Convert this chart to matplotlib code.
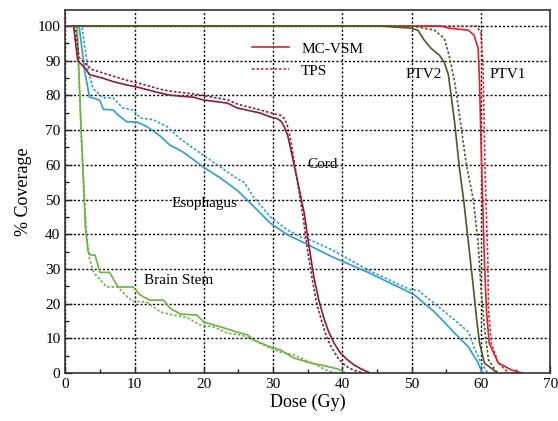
import matplotlib
matplotlib.use("Agg")
import matplotlib.pyplot as plt
from matplotlib.lines import Line2D
from matplotlib.ticker import MultipleLocator

plt.rcParams['font.family'] = ['Liberation Serif', 'DejaVu Serif']

# ---- DVH data (dose in Gy, coverage in %) ----
cord_mc_dose = [0, 1.2, 1.8, 2.8, 3.5, 5.4, 6.9, 8.9, 10.4, 13.7, 15.1, 16.6, 18.5, 19.9, 23.4,
                24.8, 28.2, 29.6, 30.6, 31.2, 31.6, 32.1, 32.5, 33.5, 34.5, 35.2, 35.9, 36.6, 37.3,
                38.0, 38.8, 39.7, 40.8, 41.7, 42.7, 44.0]
cord_mc_cov = [100, 100, 90, 88, 86, 85, 84, 83, 82.4, 80.7, 80.1, 79.8, 79.5, 78.7, 77.8,
               76.4, 74.9, 73.8, 73.3, 72.5, 71, 68.5, 65, 55.6, 46, 36.3, 27.5, 21, 16,
               12, 8.6, 5.8, 3.7, 2.3, 1.2, 0]
cord_tps_dose = [0, 1.4, 2.0, 3.0, 3.8, 5.4, 7.0, 9.0, 10.5, 13.7, 15.0, 17.0, 19.0, 21.0, 23.5,
                 25.0, 28.2, 30.0, 31.2, 31.7, 32.1, 32.5, 32.8, 33.6, 34.4, 35.0, 35.7, 36.3, 37.0,
                 37.7, 38.4, 39.3, 40.2, 41.0, 41.8, 43.0]
cord_tps_cov = [100, 100, 91, 89, 87.5, 86.5, 85.5, 84.3, 83.6, 81.8, 81.3, 80.8, 80.3, 79.6, 78.7,
                77.4, 75.8, 74.8, 74.2, 73.2, 71, 67.5, 64, 54, 44, 35, 26.5, 20, 15,
                10.5, 7.5, 4.5, 2.5, 1.4, 0.7, 0]

eso_mc_dose = [0, 2.0, 2.8, 3.5, 4.5, 5.0, 5.5, 6.9, 7.6, 8.9, 10.4, 11.8, 13.7, 15.1, 17.0, 19.9,
               22.4, 24.8, 26.7, 29.6, 32.1, 34.5, 38.5, 43.7, 48.5, 50.4, 53.3, 56.2, 58.2, 59.6, 60.2]
eso_mc_cov = [100, 100, 87, 79.5, 79, 78.5, 76, 75.8, 74.4, 72.4, 72.3, 71, 68.3, 65.7, 63.7, 59.4,
              56.2, 52.7, 49, 43.2, 39.8, 37.5, 33.5, 29, 24.4, 22.5, 17.6, 11.5, 7.5, 2.9, 0]
eso_tps_dose = [0, 2.4, 3.3, 4.0, 5.5, 6.9, 8.3, 9.8, 10.8, 12.7, 14.7, 16.6, 19.9, 24.8, 25.8, 27.2,
                29.6, 32.1, 34.0, 35.4, 38.5, 43.7, 49.9, 50.9, 53.3, 56.2, 58.2, 59.0, 60.0, 61.0]
eso_tps_cov = [100, 100, 87, 82, 79.3, 79.3, 76.4, 75.8, 73.5, 73, 71, 67.5, 62.8, 56, 55, 50.7,
               45, 41.2, 39.2, 38.3, 35.5, 29.7, 23.9, 23.9, 20, 15.3, 11.8, 7.5, 3.0, 0]

bs_mc_dose = [0, 1.7, 2.3, 2.9, 3.3, 3.6, 4.3, 5.0, 6.4, 7.6, 9.8, 10.8, 12.2, 14.2, 15.1, 16.6,
              19.0, 20.0, 22.4, 24.8, 26.3, 27.2, 29.6, 31.1, 33.0, 35.4, 36.9, 39.3, 40.5]
bs_mc_cov = [100, 100, 70, 42, 35, 34, 34, 29, 29, 24.8, 24.8, 22.5, 21, 21, 18.7, 17,
             16.7, 14.7, 13.3, 11.8, 11, 9.5, 7.5, 6.6, 4.3, 2.9, 2.3, 1.2, 0]
bs_tps_dose = [0, 1.7, 2.3, 3.1, 3.5, 4.0, 4.3, 6.0, 7.6, 8.9, 9.8, 11.8, 13.7, 15.6, 17.6, 19.5,
               21.4, 23.4, 25.3, 27.2, 29.2, 31.1, 33.0, 35.5, 37.5, 39.0]
bs_tps_cov = [100, 100, 68, 39, 33, 29.5, 28.5, 24.8, 24.8, 22, 20.7, 20.4, 17.6, 16.7, 16, 13.8,
              13.3, 11.5, 11, 9.5, 7.5, 6.0, 5.2, 3.0, 1.0, 0]

ptv2_mc_dose = [0, 45.6, 49.9, 50.9, 51.8, 52.8, 54.0, 54.7, 55.3, 55.7, 56.2, 56.9, 57.5, 58.2,
                58.9, 59.4, 59.8, 60.5, 61.8, 62.3]
ptv2_mc_cov = [100, 100, 99.4, 98.8, 96, 93.6, 91.6, 89.6, 86, 80, 72.3, 59, 50, 37.5,
               24.8, 15.3, 8.6, 2.9, 0.9, 0]
ptv2_tps_dose = [0, 50.0, 51.8, 53.3, 54.7, 55.4, 56.2, 56.9, 57.9, 58.9, 59.6, 60.0, 60.5, 61.1, 62.2, 62.6]
ptv2_tps_cov = [100, 100, 99.4, 98.8, 96.5, 91.6, 84, 74.4, 60, 50, 37.5, 24.8, 13.3, 3.7, 0.5, 0]

ptv1_mc_dose = [0, 54.3, 55.3, 58.2, 59.0, 59.6, 59.8, 60.1, 60.5, 60.8, 61.2, 62.5, 64.4, 65.9]
ptv1_mc_cov = [100, 100, 99.4, 98.8, 97.4, 93.6, 84, 60, 32.6, 18, 8.6, 2.9, 0.9, 0]
ptv1_tps_dose = [0, 59.4, 60.0, 60.3, 60.6, 61.0, 61.1, 61.5, 62.5, 64.0]
ptv1_tps_cov = [100, 100, 98, 88.8, 58, 32.6, 18, 8.6, 2.9, 0]

c_cord = '#8b1a3c'
c_eso = '#2a9ddc'
c_bs = '#6cb33f'
c_ptv2 = '#4a5a25'
c_ptv1 = '#e0202a'

fig = plt.figure(figsize=(5.58, 4.21), dpi=100)
ax = fig.add_axes([0.117, 0.114, 0.869, 0.862])

lw = 1.2
dot = (0, (1.5, 1.2))
curves = [
    (bs_mc_dose, bs_mc_cov, bs_tps_dose, bs_tps_cov, c_bs),
    (eso_mc_dose, eso_mc_cov, eso_tps_dose, eso_tps_cov, c_eso),
    (cord_mc_dose, cord_mc_cov, cord_tps_dose, cord_tps_cov, c_cord),
    (ptv1_mc_dose, ptv1_mc_cov, ptv1_tps_dose, ptv1_tps_cov, c_ptv1),
    (ptv2_mc_dose, ptv2_mc_cov, ptv2_tps_dose, ptv2_tps_cov, c_ptv2),
]
for d1, c1, d2, c2, col in curves:
    ax.plot(d2, c2, color=col, lw=lw, linestyle=dot)
    ax.plot(d1, c1, color=col, lw=lw)

ax.set_xlim(0, 70)
ax.set_ylim(0, 104.6)
ax.xaxis.set_major_locator(MultipleLocator(10))
ax.xaxis.set_minor_locator(MultipleLocator(5))
ax.yaxis.set_major_locator(MultipleLocator(10))
ax.yaxis.set_minor_locator(MultipleLocator(5))
ax.tick_params(which='both', direction='in', labelsize=11, color='#222222')
ax.tick_params(which='major', length=5, width=1)
ax.tick_params(which='minor', length=3, width=1)
ax.grid(True, which='major', color='black', linestyle=(0, (1.5, 1.5)), linewidth=1)
ax.set_axisbelow(True)
for s in ax.spines.values():
    s.set_linewidth(1.2)
    s.set_color('#333333')

ax.set_xlabel('Dose (Gy)', fontsize=13, labelpad=2)
ax.set_ylabel('% Coverage', fontsize=13, labelpad=4)

ax.text(37.1, 60, 'Cord', fontsize=11, ha='center', va='center')
ax.text(20.1, 49, 'Esophagus', fontsize=11, ha='center', va='center')
ax.text(16.4, 26.8, 'Brain Stem', fontsize=11, ha='center', va='center')
ax.text(51.8, 86, 'PTV2', fontsize=11, ha='center', va='center')
ax.text(63.8, 86, 'PTV1', fontsize=11, ha='center', va='center')

handles = [Line2D([], [], color=c_ptv1, lw=lw),
           Line2D([], [], color=c_ptv1, lw=lw, linestyle=dot)]
ax.legend(handles, ['MC-VSM', 'TPS'], loc='upper left', bbox_to_anchor=(0.357, 0.95),
          frameon=False, fontsize=11, handlelength=2.4, labelspacing=0.55)

fig.savefig('out.png', dpi=100)
